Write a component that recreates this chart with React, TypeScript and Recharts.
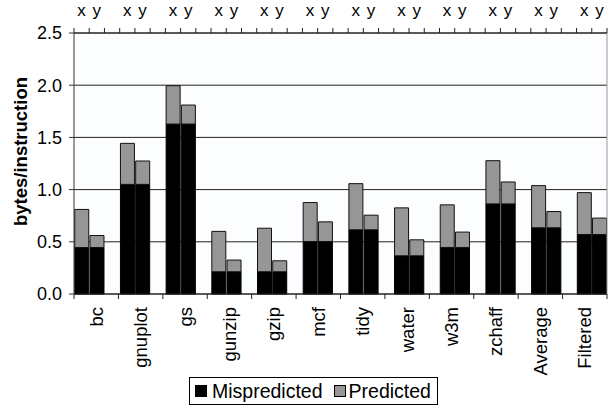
import { BarChart, Bar, XAxis, YAxis, CartesianGrid, Legend, Label, ReferenceLine } from "recharts";

const categories = ["bc", "gnuplot", "gs", "gunzip", "gzip", "mcf", "tidy", "water", "w3m", "zchaff", "Average", "Filtered"];
const mispredictedX = [0.445, 1.05, 1.628, 0.213, 0.213, 0.503, 0.615, 0.366, 0.446, 0.863, 0.634, 0.57];
const predictedX = [0.365, 0.393, 0.367, 0.387, 0.417, 0.373, 0.442, 0.459, 0.408, 0.414, 0.404, 0.401];
const mispredictedY = [0.445, 1.05, 1.628, 0.213, 0.213, 0.503, 0.615, 0.366, 0.446, 0.863, 0.634, 0.57];
const predictedY = [0.115, 0.224, 0.182, 0.112, 0.105, 0.188, 0.14, 0.153, 0.147, 0.21, 0.156, 0.157];
const yTicks = [0, 0.5, 1, 1.5, 2, 2.5];
const slotLabels = ["x", "y"];

const FONT = "'Liberation Sans', Arial, sans-serif";
const WIDTH = 615;
const HEIGHT = 413;
const MARGIN = { top: 0, right: 8, bottom: 0, left: 0 };
const Y_AXIS_WIDTH = 74;
const PLOT_WIDTH = WIDTH - MARGIN.left - MARGIN.right - Y_AXIS_WIDTH;

// each benchmark gets an x slot, a y slot and an empty slot (none after the last)
const data: any[] = [];
categories.forEach((name, i) => {
  data.push({ slot: `${name}-x`, pos: 3 * i + 0.5, cat: i + 0.25, mispredicted: mispredictedX[i], predicted: predictedX[i] });
  data.push({ slot: `${name}-y`, pos: 3 * i + 1.5, cat: i + 0.5, mispredicted: mispredictedY[i], predicted: predictedY[i] });
  if (i < categories.length - 1) data.push({ slot: `${name}-gap`, pos: 3 * i + 2.5, cat: i + 0.75 });
});
const slotCount = data.length;
const slotWidth = PLOT_WIDTH / slotCount;
const catWidth = PLOT_WIDTH / categories.length;

const topTicks = Array.from({ length: slotCount + 1 }, (_, s) => s);
const bottomTicks = Array.from({ length: categories.length + 1 }, (_, c) => c);

const TopTick = ({ x, y, payload }: any) => {
  const s = payload.value;
  if (s >= slotCount || s % 3 > 1) return null;
  return (
    <text x={x + slotWidth / 2} y={y - 12} textAnchor="middle" fontSize={17} fontFamily={FONT} fill="#000">
      {slotLabels[s % 3]}
    </text>
  );
};

const BottomTick = ({ x, y, payload }: any) => {
  const c = payload.value;
  if (c >= categories.length) return null;
  const tx = x + catWidth / 2;
  const ty = y + 8;
  return (
    <text
      x={tx}
      y={ty}
      transform={`rotate(-90, ${tx}, ${ty})`}
      textAnchor="end"
      dominantBaseline="central"
      fontSize={18.5}
      fontFamily={FONT}
      fill="#000"
    >
      {categories[c]}
    </text>
  );
};

const renderYLabel = ({ viewBox }: any) => {
  const cx = viewBox.x + 20;
  const cy = viewBox.y + viewBox.height / 2 - 12;
  return (
    <text
      x={cx}
      y={cy}
      transform={`rotate(-90, ${cx}, ${cy})`}
      textAnchor="middle"
      dominantBaseline="central"
      fontSize={18.5}
      fontWeight="bold"
      fontFamily={FONT}
      fill="#000"
    >
      bytes/instruction
    </text>
  );
};

const renderLegend = ({ payload }: any) => (
  <div
    style={{
      display: "inline-flex",
      alignItems: "center",
      boxSizing: "border-box",
      height: 28,
      border: "1px solid #000",
      background: "#fff",
      padding: "0 6px 0 5px",
      fontFamily: FONT,
      fontSize: 19.5,
      lineHeight: "22px",
      whiteSpace: "nowrap",
    }}
  >
    {(payload || []).map((entry: any, i: number) => (
      <span key={i} style={{ display: "inline-flex", alignItems: "center", marginRight: i === 0 ? 11 : 0 }}>
        <span
          style={{
            boxSizing: "border-box",
            width: 12,
            height: 12,
            background: entry.color,
            border: "1px solid #000",
            marginRight: i === 0 ? 5 : 3,
          }}
        />
        {entry.value}
      </span>
    ))}
  </div>
);

export default function App() {
  return (
    <div style={{ position: "absolute", left: 0, top: 0, width: WIDTH, height: HEIGHT, background: "#fff" }}>
      <BarChart width={WIDTH} height={HEIGHT} data={data} margin={MARGIN} barCategoryGap="5%">
        <CartesianGrid xAxisId="slot" vertical={false} stroke="#222" fill="#fbfdff" />
        <XAxis xAxisId="slot" dataKey="slot" hide padding={{ left: 0, right: 0 }} />
        <XAxis
          xAxisId="top"
          orientation="top"
          type="number"
          dataKey="pos"
          domain={[0, slotCount]}
          ticks={topTicks}
          interval={0}
          tickSize={5}
          tickMargin={0}
          tickLine={{ stroke: "#222" }}
          tick={<TopTick />}
          height={33}
          axisLine={{ stroke: "#222" }}
        />
        <XAxis
          xAxisId="bottom"
          orientation="bottom"
          type="number"
          dataKey="cat"
          domain={[0, categories.length]}
          ticks={bottomTicks}
          interval={0}
          tickSize={5}
          tickMargin={0}
          tickLine={{ stroke: "#222" }}
          tick={<BottomTick />}
          height={HEIGHT - 294}
          axisLine={{ stroke: "#222" }}
        />
        <YAxis
          domain={[0, 2.5]}
          ticks={yTicks}
          interval={0}
          width={Y_AXIS_WIDTH}
          tickSize={5}
          tickMargin={7}
          tickFormatter={(v: number) => v.toFixed(1)}
          tick={{ fill: "#000", fontSize: 18, fontFamily: FONT }}
          axisLine={{ stroke: "#333" }}
          tickLine={{ stroke: "#333" }}
        >
          <Label content={renderYLabel} />
        </YAxis>
        <ReferenceLine xAxisId="bottom" x={categories.length} stroke="#999" />
        <Legend
          verticalAlign="middle"
          align="center"
          content={renderLegend}
          wrapperStyle={{ top: 377, left: 189, width: "auto" }}
        />
        <Bar
          xAxisId="slot"
          dataKey="mispredicted"
          name="Mispredicted"
          stackId="a"
          fill="#000"
          stroke="#000"
          strokeWidth={1}
          isAnimationActive={false}
        />
        <Bar
          xAxisId="slot"
          dataKey="predicted"
          name="Predicted"
          stackId="a"
          fill="#969696"
          stroke="#111"
          strokeWidth={1}
          isAnimationActive={false}
        />
      </BarChart>
    </div>
  );
}
